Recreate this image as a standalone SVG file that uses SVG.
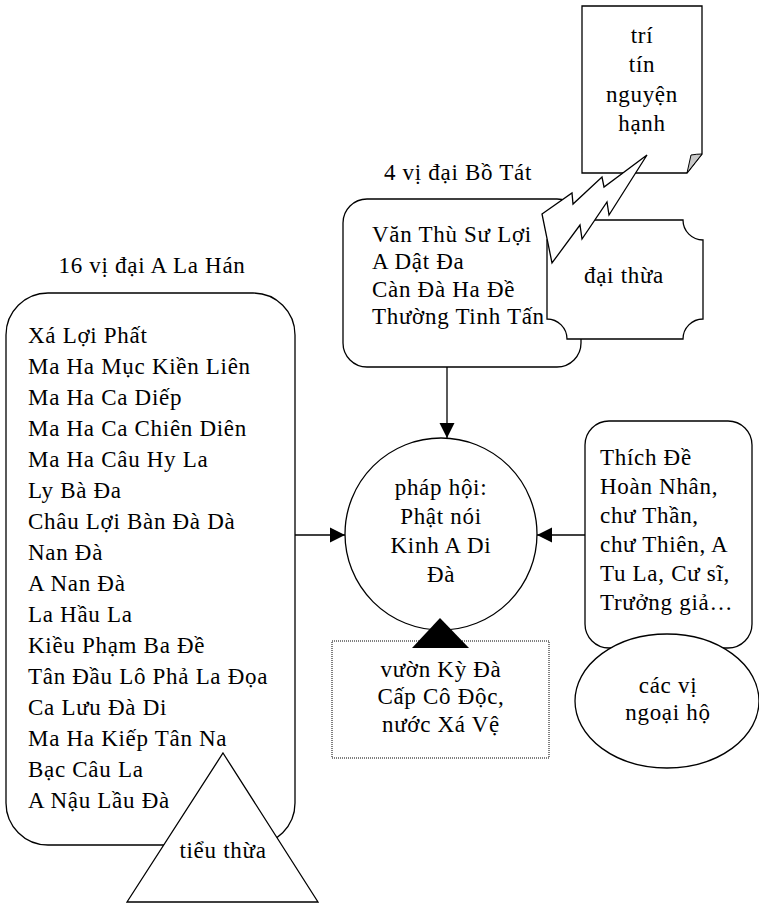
<svg xmlns="http://www.w3.org/2000/svg" width="759" height="905" viewBox="0 0 759 905">
<defs>
<style>
.s{fill:#fff;stroke:#000;stroke-width:1.3}
.t{font-family:"Liberation Serif","Times New Roman",serif;font-size:23px;fill:#000;letter-spacing:0.7px}
.c{text-anchor:middle}
.ln{stroke:#000;stroke-width:1.3;fill:none}
</style>
<marker id="ah" viewBox="0 0 16 16" refX="15" refY="8" markerWidth="16" markerHeight="16" markerUnits="userSpaceOnUse" orient="auto">
<path d="M0,0.5 L15,8 L0,15.5 Z" fill="#000"/>
</marker>
</defs>
<rect width="759" height="905" fill="#fff"/>

<g id="title-arhats"><text class="t c" x="152" y="273">16 vị đại A La Hán</text></g>
<g id="title-bodhisattvas"><text class="t c" x="458" y="180">4 vị đại Bồ Tát</text></g>

<g id="arhats">
<rect class="s" x="6" y="293" width="289" height="552" rx="42" ry="42"/>
<text class="t" x="28" y="343">Xá Lợi Phất</text>
<text class="t" x="28" y="374">Ma Ha Mục Kiền Liên</text>
<text class="t" x="28" y="405">Ma Ha Ca Diếp</text>
<text class="t" x="28" y="436">Ma Ha Ca Chiên Diên</text>
<text class="t" x="28" y="467">Ma Ha Câu Hy La</text>
<text class="t" x="28" y="498">Ly Bà Đa</text>
<text class="t" x="28" y="529">Châu Lợi Bàn Đà Dà</text>
<text class="t" x="28" y="560">Nan Đà</text>
<text class="t" x="28" y="591">A Nan Đà</text>
<text class="t" x="28" y="622">La Hầu La</text>
<text class="t" x="28" y="653">Kiều Phạm Ba Đề</text>
<text class="t" x="28" y="684">Tân Đầu Lô Phả La Đọa</text>
<text class="t" x="28" y="715">Ca Lưu Đà Di</text>
<text class="t" x="28" y="746">Ma Ha Kiếp Tân Na</text>
<text class="t" x="28" y="777">Bạc Câu La</text>
<text class="t" x="28" y="808">A Nậu Lầu Đà</text>
</g>

<g id="hinayana">
<polygon class="s" points="223,753 318,902 127,902"/>
<text class="t c" x="223" y="858">tiểu thừa</text>
</g>

<g id="bodhisattvas">
<rect class="s" x="343" y="199" width="238" height="168" rx="24" ry="24"/>
<text class="t" x="372" y="242">Văn Thù Sư Lợi</text>
<text class="t" x="372" y="269">A Dật Đa</text>
<text class="t" x="372" y="297">Càn Đà Ha Đề</text>
<text class="t" x="372" y="324">Thường Tinh Tấn</text>
</g>

<g id="mahayana">
<path class="s" d="M567,220 L683,220 A20,20 0 0 0 703,240 L703,319 A20,20 0 0 0 683,339 L567,339 A20,20 0 0 0 547,319 L547,240 A20,20 0 0 0 567,220 Z"/>
<text class="t c" x="624" y="283">đại thừa</text>
</g>

<g id="virtues">
<path class="s" d="M582,6 L702,6 L702,154 L687,173 L582,173 Z"/>
<path d="M691,155 Q697,154 702,154 L687,173 Z" fill="#c8c8c8" stroke="#000" stroke-width="1"/>
<text class="t c" x="642" y="43">trí</text>
<text class="t c" x="642" y="72">tín</text>
<text class="t c" x="642" y="102">nguyện</text>
<text class="t c" x="642" y="131">hạnh</text>
</g>

<g id="lightning">
<polygon class="s" points="647,155 604,187 602,177 573,204 572,193 542,214 552,263 580,225 582,239 607,202 609,215"/>
</g>

<g id="assembly">
<circle class="s" cx="441" cy="534" r="96"/>
<text class="t c" x="441" y="495">pháp hội:</text>
<text class="t c" x="441" y="524">Phật nói</text>
<text class="t c" x="441" y="553">Kinh A Di</text>
<text class="t c" x="441" y="582">Đà</text>
</g>

<g id="place">
<rect x="332" y="641" width="217" height="117" fill="#fff" stroke="#000" stroke-width="1" stroke-dasharray="1,1"/>
<text class="t c" x="441" y="677">vườn Kỳ Đà</text>
<text class="t c" x="441" y="704">Cấp Cô Độc,</text>
<text class="t c" x="441" y="732">nước Xá Vệ</text>
</g>

<g id="protectors">
<rect class="s" x="585" y="421" width="167" height="227" rx="24" ry="24"/>
<text class="t" x="600" y="465">Thích Đề</text>
<text class="t" x="600" y="494">Hoàn Nhân,</text>
<text class="t" x="600" y="523">chư Thần,</text>
<text class="t" x="600" y="552">chư Thiên, A</text>
<text class="t" x="600" y="581">Tu La, Cư sĩ,</text>
<text class="t" x="600" y="610">Trưởng giả…</text>
</g>

<g id="protectors-label">
<ellipse class="s" cx="667" cy="701" rx="92" ry="67"/>
<text class="t c" x="668" y="693">các vị</text>
<text class="t c" x="668" y="720">ngoại hộ</text>
</g>

<g id="connectors">
<line class="ln" x1="447" y1="367" x2="447" y2="438" marker-end="url(#ah)"/>
<line class="ln" x1="295" y1="535" x2="345" y2="535" marker-end="url(#ah)"/>
<line class="ln" x1="585" y1="535" x2="537" y2="535" marker-end="url(#ah)"/>
<polygon points="440,618 469,648 412,648" fill="#000"/>
</g>
</svg>
